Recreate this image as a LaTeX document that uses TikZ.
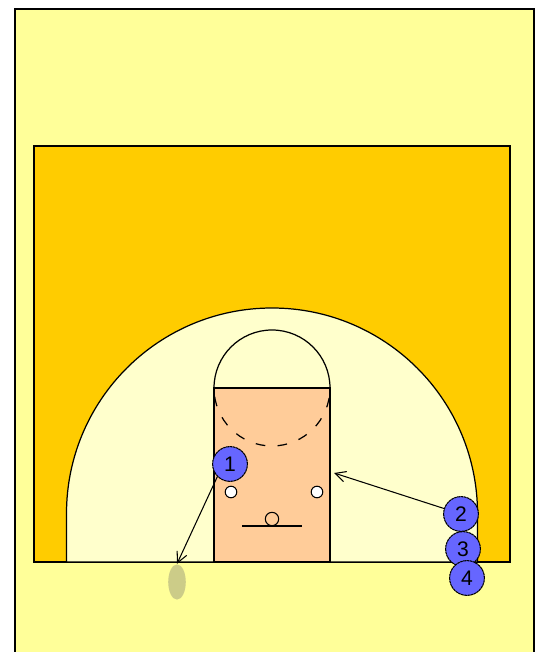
\documentclass[tikz,border=0pt]{standalone}
\usepackage{fontspec}
\usetikzlibrary{shapes.geometric, arrows.meta}
\setmainfont{Liberation Sans}
\definecolor{paper}{HTML}{FFFF99}
\definecolor{court}{HTML}{FFCC00}
\definecolor{arcfill}{HTML}{FFFFCC}
\definecolor{lanefill}{HTML}{FFCC99}
\definecolor{playerblue}{HTML}{6666FF}
\definecolor{ghost}{HTML}{CCCC88}
\tikzset{
  player/.style={circle, draw=black, fill=playerblue, line width=0.6pt, dash pattern=on 1.5pt off 0.3pt,
    minimum size=19.8pt, inner sep=0pt, font=\fontsize{12}{12}\selectfont},
  spot/.style={circle, draw=black, fill=white, line width=0.6pt, minimum size=6.6pt, inner sep=0pt},
  pass/.style={-{Straight Barb[length=6pt, width=6pt]}, line width=0.6pt, black}
}
\begin{document}
\begin{tikzpicture}[x=0.02cm, y=0.02cm, line width=0.7pt]
  \useasboundingbox (0,0) rectangle (541,652);

  % Paper
  \fill[paper] (15,0) rectangle (534,643);
  \draw[line width=1.1pt] (15,0) -- (15,643) -- (534,643) -- (534,0);

  % Half court
  \draw[fill=court] (34,90) rectangle (510,506);

  % Three point area
  \draw[fill=arcfill] (66.5,90) -- (66.5,138.5) arc (180:0:205.5) -- (477.5,90) -- cycle;

  % Lane and top of the key
  \draw[fill=arcfill] (214,264) arc (180:0:58);
  \draw[fill=lanefill] (214,90) rectangle (330,264);
  \draw[dash pattern=on 5.5pt off 7pt, dash phase=-5pt] (214,264) arc (180:360:58);

  % Blocks
  \node[spot] (blockL) at (231,160) {};
  \node[spot] (blockR) at (317,160) {};

  % Basket
  \node[circle, draw=black, line width=0.6pt, minimum size=7.6pt, inner sep=0pt] (rim) at (272,133) {};
  \draw (242,126) -- (302,126);

  % Ghost
  \node[ellipse, fill=ghost, minimum width=10pt, minimum height=20pt, inner sep=0pt] (shadow) at (177,70) {};

  % Players
  \node[player] (p1) at (230,188) {1};
  \node[player] (p2) at (461,138) {2};
  \node[player] (p3) at (463,103) {3};
  \node[player] (p4) at (467,74) {4};

  % Passes
  \coordinate (laneR) at (334,179);
  \draw[pass] (p1.225) -- (shadow.north);
  \draw[pass] (p2) -- (laneR);
\end{tikzpicture}
\end{document}
